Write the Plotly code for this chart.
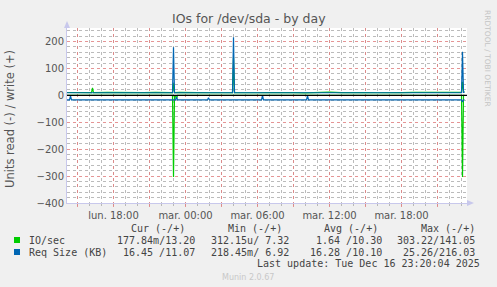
import plotly.graph_objects as go

# ---------------- data ----------------
gw_t = ["2025-12-15 14:00", "2025-12-15 15:00", "2025-12-15 15:40", "2025-12-15 16:10", "2025-12-15 16:15",
        "2025-12-15 16:20", "2025-12-15 17:30", "2025-12-15 18:30", "2025-12-15 19:30", "2025-12-15 20:30",
        "2025-12-15 21:30", "2025-12-15 22:55", "2025-12-15 23:00", "2025-12-15 23:05", "2025-12-15 23:30",
        "2025-12-16 00:30", "2025-12-16 01:30", "2025-12-16 02:30", "2025-12-16 03:55", "2025-12-16 04:00",
        "2025-12-16 04:05", "2025-12-16 05:00", "2025-12-16 06:00", "2025-12-16 07:00", "2025-12-16 08:00",
        "2025-12-16 09:00", "2025-12-16 10:00", "2025-12-16 11:00", "2025-12-16 12:00", "2025-12-16 13:00",
        "2025-12-16 14:00", "2025-12-16 15:00", "2025-12-16 16:00", "2025-12-16 17:00", "2025-12-16 18:00",
        "2025-12-16 19:00", "2025-12-16 20:00", "2025-12-16 21:00", "2025-12-16 22:00", "2025-12-16 23:00",
        "2025-12-16 23:05", "2025-12-16 23:10", "2025-12-16 23:15"]
gw_v = [10.5, 11, 9.5, 10, 28,
        10, 11, 10, 9, 10,
        11, 10, 45, 10, 11,
        10, 11, 9.5, 10, 141.05,
        10, 11, 9.5, 10, 11,
        10, 9, 11, 11.5, 10,
        11, 10, 9.5, 11, 10,
        11, 11, 10, 11, 11,
        50, 13.2, 13.2]

gr_t = ["2025-12-15 14:00", "2025-12-15 22:55", "2025-12-15 23:00", "2025-12-15 23:05", "2025-12-15 23:10",
        "2025-12-15 23:15", "2025-12-15 23:20", "2025-12-16 23:00", "2025-12-16 23:05", "2025-12-16 23:10",
        "2025-12-16 23:15"]
gr_v = [-0.2, -0.2, -303.22, -1, -1,
        -14, -0.2, -0.2, -303, -0.18,
        -0.18]

bw_t = ["2025-12-15 14:00", "2025-12-15 17:00", "2025-12-15 20:00", "2025-12-15 22:55", "2025-12-15 23:00",
        "2025-12-15 23:05", "2025-12-16 02:00", "2025-12-16 03:55", "2025-12-16 04:00", "2025-12-16 04:05",
        "2025-12-16 08:00", "2025-12-16 12:00", "2025-12-16 16:00", "2025-12-16 20:00", "2025-12-16 23:00",
        "2025-12-16 23:05", "2025-12-16 23:10", "2025-12-16 23:15"]
bw_v = [9.5, 9.5, 9.5, 9.5, 178,
        9.5, 9.5, 9.5, 216.03, 9.5,
        9.5, 9.5, 9.5, 9.5, 9.5,
        162, 11.07, 11.07]

br_t = ["2025-12-15 14:00", "2025-12-15 14:20", "2025-12-15 14:25", "2025-12-15 14:30", "2025-12-15 23:10",
        "2025-12-15 23:15", "2025-12-15 23:20", "2025-12-16 01:50", "2025-12-16 01:55", "2025-12-16 02:00",
        "2025-12-16 06:20", "2025-12-16 06:25", "2025-12-16 06:30", "2025-12-16 10:05", "2025-12-16 10:10",
        "2025-12-16 10:15", "2025-12-16 23:00", "2025-12-16 23:05", "2025-12-16 23:10", "2025-12-16 23:15"]
br_v = [-17, -17, -2, -17, -17,
        -6, -17, -17, -9, -17,
        -17, -0.22, -17, -17, -1.5,
        -17, -17, -25.26, -16.45, -16.45]

x_tickvals = ["2025-12-15 15:00", "2025-12-15 18:00", "2025-12-15 21:00", "2025-12-16 00:00",
              "2025-12-16 03:00", "2025-12-16 06:00", "2025-12-16 09:00", "2025-12-16 12:00",
              "2025-12-16 15:00", "2025-12-16 18:00", "2025-12-16 21:00"]
x_ticktext = ["", "lun. 18:00", "", "mar. 00:00", "", "mar. 06:00", "", "mar. 12:00", "", "mar. 18:00", ""]

legend_names = ["IO/sec", "Req Size (KB)"]
col_headers = ["Cur (-/+)", "Min (-/+)", "Avg (-/+)", "Max (-/+)"]
cur_vals = ["177.84m/13.20", "16.45 /11.07"]
min_vals = ["312.15u/ 7.32", "218.45m/ 6.92"]
avg_vals = ["1.64 /10.30", "16.28 /10.10"]
max_vals = ["303.22/141.05", "25.26/216.03"]
series_colors = ["#00CC00", "#0066B3"]

# ---------------- layout helpers ----------------
W, H = 497, 287
L, T, PW, PH = 67, 28, 400, 175


def px(x, y):
    return (x - L) / PW, 1 - (y - T) / PH


fig = go.Figure()
fig.add_trace(go.Scatter(x=gr_t, y=gr_v, mode="lines", line=dict(color=series_colors[0], width=1.2)))
fig.add_trace(go.Scatter(x=gw_t, y=gw_v, mode="lines", line=dict(color=series_colors[0], width=1.2)))
fig.add_trace(go.Scatter(x=br_t, y=br_v, mode="lines", line=dict(color=series_colors[1], width=1.2)))
fig.add_trace(go.Scatter(x=bw_t, y=bw_v, mode="lines", line=dict(color=series_colors[1], width=1.2)))

RED = "rgba(225,130,130,0.85)"
GRAY = "rgba(170,170,170,0.8)"
AX = "#c8c8ec"

fig.update_layout(
    width=W, height=H,
    margin=dict(l=L, r=W - L - PW, t=T, b=H - T - PH),
    paper_bgcolor="#F0F0F0", plot_bgcolor="white",
    showlegend=False,
    font=dict(family="DejaVu Sans", color="#555555", size=10),
    title=dict(text="IOs for /dev/sda - by day", x=248.8 / W, xanchor="center",
               y=1 - 19 / H, yanchor="middle",
               font=dict(family="DejaVu Sans", size=12.5, color="#555555")),
    xaxis=dict(
        type="date", range=["2025-12-15 14:07:30", "2025-12-16 23:27:30"],
        tickmode="array", tickvals=x_tickvals, ticktext=x_ticktext,
        showgrid=True, gridcolor=RED, griddash="dot", gridwidth=1,
        ticks="outside", ticklen=3, tickcolor=RED,
        showline=True, linecolor=AX, linewidth=1,
        zeroline=False, tickfont=dict(size=10, color="#555555"),
        minor=dict(dtick=3600000, tick0="2025-12-15 00:00", showgrid=True,
                   gridcolor=GRAY, griddash="dot", gridwidth=1,
                   ticks="outside", ticklen=2, tickcolor=GRAY),
    ),
    yaxis=dict(
        range=[-400, 250], dtick=100, tick0=0,
        showgrid=True, gridcolor=RED, griddash="dot", gridwidth=1,
        showline=True, linecolor=AX, linewidth=1,
        zeroline=False, tickfont=dict(size=10, color="#555555"),
        ticks="", ticklen=2,
        minor=dict(dtick=20, tick0=0, showgrid=True,
                   gridcolor=GRAY, griddash="dot", gridwidth=1),
    ),
)

# zero rule above the data
fig.add_shape(type="line", xref="paper", yref="y", x0=0, x1=1, y0=0, y1=0,
              line=dict(color="black", width=1.2), layer="above")


# axis arrow heads
def tri(points):
    pts = [px(a, b) for a, b in points]
    path = "M {} {} L {} {} L {} {} Z".format(*[c for p in pts for c in p])
    fig.add_shape(type="path", xref="paper", yref="paper", path=path,
                  fillcolor=AX, line=dict(width=0))


tri([(64, 28), (70, 28), (67, 21)])
tri([(467, 200), (467, 206), (474, 203)])

ann = []


def add_text(text, x, y, anchor="left", size=10, color="#444444", family="DejaVu Sans Mono", angle=0):
    xp, yp = px(x, y)
    ann.append(dict(text=text, x=xp, y=yp, xref="paper", yref="paper", showarrow=False,
                    xanchor=anchor, yanchor="middle", textangle=angle,
                    font=dict(family=family, size=size, color=color)))


# y-axis title
add_text("Units read (-) / write (+)", 10, 119, anchor="center", size=11.5,
         color="#555555", family="DejaVu Sans", angle=-90)
# side credit
add_text("RRDTOOL / TOBI OETIKER", 488, 58, anchor="center", size=7.5,
         color="#c4c4c4", family="DejaVu Sans", angle=90)

# legend table
header_right = [187, 284.3, 380, 476.5]
for h, xr in zip(col_headers, header_right):
    add_text(h, xr, 228, anchor="right")
rows_y = [240, 252]
for i in range(2):
    y = rows_y[i]
    x0, y0 = px(14, y - 3)
    x1, y1 = px(20, y + 3)
    fig.add_shape(type="rect", xref="paper", yref="paper", x0=x0, x1=x1, y0=y0, y1=y1,
                  line=dict(width=0), fillcolor=series_colors[i])
    add_text(legend_names[i], 26.5, y, anchor="left")
    add_text(cur_vals[i], 196.7, y, anchor="right")
    add_text(min_vals[i], 290.7, y, anchor="right")
    add_text(avg_vals[i], 384, y, anchor="right")
    add_text(max_vals[i], 476.7, y, anchor="right")

add_text("Last update: Tue Dec 16 23:20:04 2025", 482.3, 263.5, anchor="right")
add_text("Munin 2.0.67", 248, 277, anchor="center", size=8, color="#c8c8c8", family="DejaVu Sans")

fig.update_layout(annotations=ann)
fig.write_html("out.html")
